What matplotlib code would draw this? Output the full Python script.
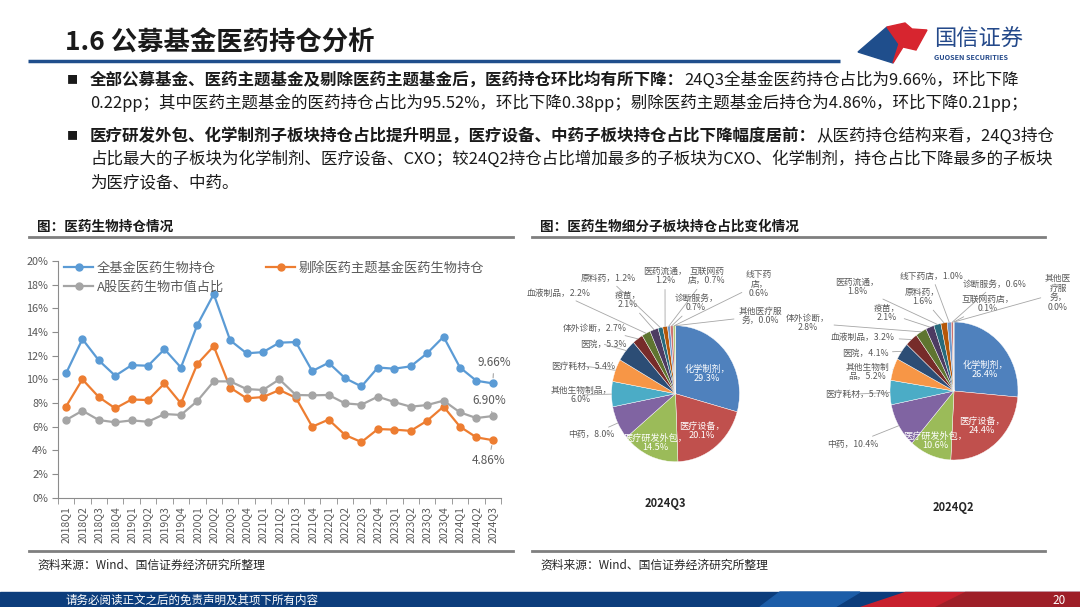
import matplotlib.pyplot as plt
from matplotlib.patches import Polygon, Rectangle
import numpy as np

plt.rcParams['font.family'] = ['Noto Sans CJK SC', 'DejaVu Sans']

# ---- data ----
quarters = ['2018Q1', '2018Q2', '2018Q3', '2018Q4', '2019Q1', '2019Q2', '2019Q3', '2019Q4',
            '2020Q1', '2020Q2', '2020Q3', '2020Q4', '2021Q1', '2021Q2', '2021Q3', '2021Q4',
            '2022Q1', '2022Q2', '2022Q3', '2022Q4', '2023Q1', '2023Q2', '2023Q3', '2023Q4',
            '2024Q1', '2024Q2', '2024Q3']
all_fund = [10.5, 13.4, 11.6, 10.3, 11.2, 11.15, 12.55, 11.0, 14.6, 17.2, 13.3, 12.2, 12.3,
            13.1, 13.15, 10.7, 11.4, 10.1, 9.4, 11.0, 10.9, 11.1, 12.2, 13.6, 11.0, 9.88, 9.66]
ex_theme = [7.7, 10.0, 8.5, 7.55, 8.3, 8.25, 9.66, 7.97, 11.3, 12.8, 9.3, 8.4, 8.5,
            9.1, 8.45, 6.0, 6.6, 5.3, 4.7, 5.8, 5.75, 5.65, 6.5, 7.7, 6.0, 5.1, 4.86]
a_share = [6.56, 7.35, 6.56, 6.37, 6.53, 6.42, 7.07, 6.99, 8.17, 9.83, 9.83, 9.18, 9.1,
           10.0, 8.68, 8.65, 8.68, 7.97, 7.86, 8.54, 8.08, 7.69, 7.83, 8.2, 7.21, 6.73, 6.90]

q3_names = ['化学制剂', '医疗设备', '医疗研发外包', '中药', '其他生物制品', '医疗耗材', '医院',
            '体外诊断', '血液制品', '疫苗', '原料药', '医药流通', '互联网药店', '诊断服务',
            '线下药店', '其他医疗服务']
q3_vals = [29.3, 20.1, 14.5, 8.0, 6.0, 5.4, 5.3, 2.7, 2.2, 2.1, 1.2, 1.2, 0.7, 0.7, 0.6, 0.0]
q2_names = ['化学制剂', '医疗设备', '医疗研发外包', '中药', '医疗耗材', '其他生物制品', '医院',
            '血液制品', '体外诊断', '疫苗', '医药流通', '原料药', '线下药店', '诊断服务',
            '互联网药店', '其他医疗服务']
q2_vals = [26.4, 24.4, 10.6, 10.4, 5.7, 5.2, 4.1, 3.2, 2.8, 2.1, 1.8, 1.6, 1.0, 0.6, 0.1, 0.0]

pie_colors = ['#4F81BD', '#C0504D', '#9BBB59', '#8064A2', '#4BACC6', '#F79646', '#2C4D75',
              '#772C2A', '#5F7530', '#4D3B62', '#276A7C', '#B65708', '#729ACA', '#CD7371',
              '#AFC97A', '#A99BBD']

# label layout (name with line breaks, text centre in slide pixels, inside slice?)
q3_layout = [('化学制剂，\n', (707, 374), True), ('医疗设备，\n', (702, 431), True),
             ('医疗研发外包，\n', (655, 443), True), ('中药，', (591, 435), False),
             ('其他生物制品，\n', (581, 395), False), ('医疗耗材，', (583, 366), False),
             ('医院，', (603, 344), False), ('体外诊断，', (595, 328), False),
             ('血液制品，', (559, 293), False), ('疫苗，\n', (628, 300), False),
             ('原料药，', (608, 278), False), ('医药流通，\n', (665, 276), False),
             ('互联网药\n店，', (707, 276), False), ('诊断服务，\n', (696, 303), False),
             ('线下药\n店，\n', (759, 284), False), ('其他医疗服\n务，', (760, 316), False)]
q2_layout = [('化学制剂，\n', (985, 370), True), ('医疗设备，\n', (982, 426), True),
             ('医疗研发外包，\n', (935, 441), True), ('中药，', (853, 444), False),
             ('医疗耗材，', (857, 394), False), ('其他生物制\n品，', (867, 372), False),
             ('医院，', (865, 353), False), ('血液制品，', (863, 337), False),
             ('体外诊断，\n', (808, 323), False), ('疫苗，\n', (887, 313), False),
             ('医药流通，\n', (857, 287), False), ('原料药，\n', (922, 297), False),
             ('线下药店，', (932, 276), False), ('诊断服务，', (995, 284), False),
             ('互联网药店，\n', (988, 304), False), ('其他医\n疗服\n务，\n', (1058, 293), False)]

W, H = 1080, 607
TXT = '#595959'
BODY = 11.9
fig = plt.figure(figsize=(10.8, 6.07), dpi=100)
bg = fig.add_axes([0, 0, 1, 1])
bg.set_xlim(0, W)
bg.set_ylim(H, 0)
bg.axis('off')


def box(x0, y0, x1, y1):
    return [x0 / W, 1 - y1 / H, (x1 - x0) / W, (y1 - y0) / H]


# ---- header ----
bg.text(65, 43, '1.6 公募基金医药持仓分析', fontsize=19, fontweight='bold', color='#1a1a1a', va='center')
bg.plot([28, 840], [61, 61], color='#1F4E8C', lw=2.5, solid_capstyle='butt')
bg.add_patch(Polygon([(858, 52), (887, 27), (899, 44), (893, 63)], color='#1F4E8C'))
bg.add_patch(Polygon([(887, 27), (905, 23), (912, 29), (927, 30), (916, 50), (903, 47),
                      (893, 63), (899, 44)], color='#D7252F'))
bg.text(934, 39, '国信证券', fontsize=16, color='#24498A', va='center')
bg.text(934, 58, 'GUOSEN SECURITIES', fontsize=5.2, fontweight='bold', color='#24498A', va='center')

# ---- bullets ----
def rich_line(x, y, bold, normal):
    t = bg.text(x, y, bold, fontsize=BODY, fontweight='bold', color='#1a1a1a', va='center')
    if normal:
        bg.annotate(normal, xy=(1, 0), xycoords=t, va='bottom', ha='left',
                    fontsize=BODY, color='#1a1a1a')


for yb in (80, 136):
    bg.text(72, yb, '■', fontsize=8, color='#1a1a1a', va='center', ha='center')
rich_line(90, 80, '全部公募基金、医药主题基金及剔除医药主题基金后，医药持仓环比均有所下降：',
          '24Q3全基金医药持仓占比为9.66%，环比下降')
bg.text(90, 103, '0.22pp；其中医药主题基金的医药持仓占比为95.52%，环比下降0.38pp；剔除医药主题基金后持仓为4.86%，环比下降0.21pp；',
        fontsize=BODY, color='#1a1a1a', va='center')
rich_line(90, 136, '医疗研发外包、化学制剂子板块持仓占比提升明显，医疗设备、中药子板块持仓占比下降幅度居前：',
          '从医药持仓结构来看，24Q3持仓')
bg.text(90, 159, '占比最大的子板块为化学制剂、医疗设备、CXO；较24Q2持仓占比增加最多的子板块为CXO、化学制剂，持仓占比下降最多的子板块',
        fontsize=BODY, color='#1a1a1a', va='center')
bg.text(90, 183, '为医疗设备、中药。', fontsize=BODY, color='#1a1a1a', va='center')

# ---- section headers / sources ----
bg.text(37, 227, '图：医药生物持仓情况', fontsize=9.8, fontweight='bold', color='#1a1a1a', va='center')
bg.text(540, 227, '图：医药生物细分子板块持仓占比变化情况', fontsize=9.8, fontweight='bold', color='#1a1a1a', va='center')
for x0, x1 in ((29, 513), (532, 1045)):
    bg.plot([x0, x1], [237, 237], color='#7F7F7F', lw=2)
    bg.plot([x0, x1], [551, 551], color='#7F7F7F', lw=2)
bg.text(37, 565, '资料来源：Wind、国信证券经济研究所整理', fontsize=8.5, color='#262626', va='center')
bg.text(540, 565, '资料来源：Wind、国信证券经济研究所整理', fontsize=8.5, color='#262626', va='center')

# ---- footer ----
bg.add_patch(Rectangle((0, 592), W, 15, color='#0C3D7C'))
bg.add_patch(Polygon([(780, 592), (860, 592), (835, 607), (760, 607)], color='#1C5DA8'))
bg.add_patch(Polygon([(905, 592), (W, 592), (W, 607), (860, 607)], color='#C8202E'))
bg.add_patch(Polygon([(965, 592), (W, 592), (W, 607), (935, 607)], color='#9E1F28'))
bg.text(65, 600, '请务必阅读正文之后的免责声明及其项下所有内容', fontsize=8.3, color='white', va='center')
bg.text(1066, 601, '20', fontsize=8.5, color='white', va='center', ha='right')

# ---- line chart ----
axc = '#8C8C8C'
ax = fig.add_axes(box(57.8, 261, 501, 497.7))
x = np.arange(len(quarters))
l1, = ax.plot(x, all_fund, color='#5B9BD5', lw=1.6, marker='o', ms=5, label='全基金医药生物持仓')
l2, = ax.plot(x, ex_theme, color='#ED7D31', lw=1.6, marker='o', ms=5, label='剔除医药主题基金医药生物持仓')
l3, = ax.plot(x, a_share, color='#A5A5A5', lw=1.6, marker='o', ms=5, label='A股医药生物市值占比')
ax.set_xlim(-0.5, len(quarters) - 0.5)
ax.set_ylim(0, 20)
ax.set_yticks(range(0, 21, 2))
ax.set_yticklabels([f'{v}%' for v in range(0, 21, 2)])
ax.set_xticks(x)
ax.set_xticklabels(quarters, rotation=90)
ax.set_xticks(np.arange(-0.5, len(quarters)), minor=True)
ax.tick_params(axis='x', which='major', length=0, pad=6, labelsize=7.5, labelcolor=TXT)
ax.tick_params(axis='x', which='minor', length=4, color=axc)
ax.tick_params(axis='y', length=4, color=axc, labelsize=7.8, labelcolor=TXT, pad=3)
for s in ('top', 'right'):
    ax.spines[s].set_visible(False)
for s in ('left', 'bottom'):
    ax.spines[s].set_color(axc)
ax.patch.set_alpha(0)

leg_kw = dict(loc='upper left', bbox_transform=bg.transData, frameon=False, fontsize=9.5,
              labelcolor=TXT, handlelength=2.2, handletextpad=0.3, labelspacing=0.45,
              borderaxespad=0, borderpad=0)
leg1 = ax.legend(handles=[l1, l3], bbox_to_anchor=(64, 262), **leg_kw)
ax.add_artist(leg1)
ax.legend(handles=[l2], bbox_to_anchor=(266, 262), **leg_kw)

ann = dict(textcoords=bg.transData, ha='center', va='center', fontsize=8.5, color=TXT,
           annotation_clip=False,
           arrowprops=dict(arrowstyle='-', color='#A6A6A6', lw=0.8, shrinkA=1, shrinkB=4))
ax.annotate(f'{all_fund[-1]:.2f}%', xy=(x[-1], all_fund[-1]), xytext=(494, 363), **ann)
ax.annotate(f'{a_share[-1]:.2f}%', xy=(x[-1], a_share[-1]), xytext=(489, 401), **ann)
ax.annotate(f'{ex_theme[-1]:.2f}%', xy=(x[-1], ex_theme[-1]), xytext=(489, 460), **ann)


# ---- pies ----
def draw_pie(cx, cy, rx, ry, vals, layout, title, tpos):
    pax = fig.add_axes(box(cx - rx, cy - ry, cx + rx, cy + ry))
    wedges, _ = pax.pie(vals, colors=pie_colors, startangle=90, counterclock=False,
                        wedgeprops=dict(edgecolor='white', linewidth=0.3))
    pax.set_aspect('auto')
    pax.set_xlim(-1, 1)
    pax.set_ylim(-1, 1)
    for w, v, (name, pos, inside) in zip(wedges, vals, layout):
        txt = f'{name}{v:.1f}%'
        if inside:
            pax.annotate(txt, xy=pos, xycoords=bg.transData, ha='center', va='center',
                         fontsize=6.6, color='white', linespacing=1.1, annotation_clip=False)
        else:
            ang = np.deg2rad((w.theta1 + w.theta2) / 2)
            pax.annotate(txt, xy=(np.cos(ang), np.sin(ang)), xytext=pos,
                         textcoords=bg.transData, ha='center', va='center', fontsize=6.3,
                         color=TXT, linespacing=1.1, annotation_clip=False,
                         arrowprops=dict(arrowstyle='-', color='#A6A6A6', lw=0.6,
                                         shrinkA=1, shrinkB=0))
    bg.text(tpos[0], tpos[1], title, fontsize=8, fontweight='bold', color='#262626',
            ha='center', va='center')


draw_pie(675.5, 393.7, 64, 68, q3_vals, q3_layout, '2024Q3', (665, 503))
draw_pie(954, 391, 64, 69, q2_vals, q2_layout, '2024Q2', (953, 507))

fig.savefig('out.png', dpi=100)
